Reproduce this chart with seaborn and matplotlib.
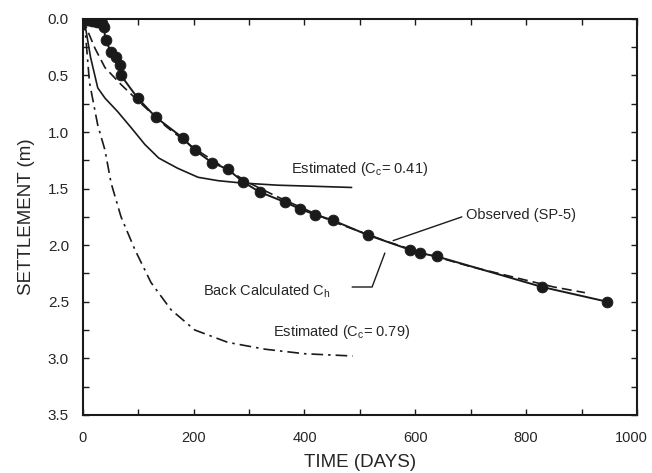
import matplotlib
matplotlib.use("Agg")
import matplotlib.pyplot as plt
import matplotlib.transforms as mtransforms
import seaborn as sns
import numpy as np

# Observed settlement (SP-5)
obs_t = [0, 4, 8, 12, 16, 20, 25, 30, 35, 38, 41, 51, 60, 67, 69, 99, 132, 180, 202, 233, 262, 289, 319, 365, 392, 419, 451, 514, 590, 608, 639, 829, 946]
obs_s = [0.0, 0.0, 0.01, 0.01, 0.02, 0.02, 0.03, 0.03, 0.04, 0.07, 0.19, 0.29, 0.34, 0.41, 0.50, 0.70, 0.87, 1.05, 1.16, 1.27, 1.33, 1.44, 1.53, 1.62, 1.68, 1.73, 1.78, 1.91, 2.04, 2.07, 2.10, 2.37, 2.50]

# Back calculated Ch
back_t = [0, 10, 22, 40, 69, 101, 150, 200, 250, 300, 350, 400, 450, 500, 550, 600, 650, 700, 750, 800, 850, 906]
back_s = [0.0, 0.12, 0.26, 0.43, 0.58, 0.73, 0.95, 1.14, 1.30, 1.45, 1.57, 1.68, 1.79, 1.88, 1.97, 2.05, 2.12, 2.19, 2.25, 2.31, 2.37, 2.42]

# Estimated (Cc = 0.41)
est41_t = [0, 4, 14, 27, 40, 63, 87, 112, 137, 171, 208, 244, 285, 352, 420, 485]
est41_s = [0.0, 0.05, 0.34, 0.61, 0.70, 0.82, 0.96, 1.11, 1.23, 1.32, 1.40, 1.43, 1.45, 1.47, 1.48, 1.49]

# Estimated (Cc = 0.79)
est79_t = [0, 5, 12, 27, 40, 51, 69, 94, 123, 159, 202, 262, 329, 400, 487]
est79_s = [0.0, 0.14, 0.56, 0.94, 1.16, 1.45, 1.75, 2.04, 2.33, 2.57, 2.75, 2.86, 2.92, 2.96, 2.98]

x_ticks = [0, 200, 400, 600, 800, 1000]
y_ticks = [0.0, 0.5, 1.0, 1.5, 2.0, 2.5, 3.0, 3.5]

sns.set_style("ticks")
plt.rcParams['font.family'] = ['Liberation Sans', 'DejaVu Sans']
plt.rcParams['mathtext.default'] = 'regular'

fig = plt.figure(figsize=(6.52, 4.73), dpi=100)
ax = fig.add_axes([0.127, 0.123, 0.850, 0.837])

ink = "#1a1a1a"
sns.lineplot(x=est41_t, y=est41_s, ax=ax, color=ink, lw=1.2, sort=False)
sns.lineplot(x=est79_t, y=est79_s, ax=ax, color=ink, lw=1.2, sort=False,
             linestyle=(0, (7, 3, 1.5, 3)))
sns.lineplot(x=back_t, y=back_s, ax=ax, color=ink, lw=1.2, sort=False, linestyle=(0, (6, 3)))
sns.lineplot(x=obs_t, y=obs_s, ax=ax, color=ink, lw=1.4, sort=False)
sns.scatterplot(x=obs_t, y=obs_s, ax=ax, color=ink, s=60, edgecolor=ink, zorder=5)

ax.set_xlim(0, 1000)
ax.set_ylim(3.5, 0.0)
ax.set_xticks(x_ticks)
ax.set_xticklabels([str(v) for v in x_ticks])
ax.set_yticks(y_ticks)
ax.set_yticklabels([f"{v:.1f}" for v in y_ticks])
ax.set_xticks(np.arange(100, 1000, 200), minor=True)
ax.set_yticks(np.arange(0.25, 3.5, 0.5), minor=True)
ax.tick_params(which='both', direction='in', top=True, right=True, labelsize=11, color=ink, width=1.0, length=4)
ax.tick_params(axis='x', pad=12, labelsize=10.5)
ax.tick_params(axis='y', pad=10)
for sp in ax.spines.values():
    sp.set_linewidth(1.5)
    sp.set_color(ink)

# nudge the last x tick label slightly left so it stays inside the figure
last = ax.get_xticklabels()[-1]
last.set_transform(last.get_transform() + mtransforms.ScaledTranslation(-4 / 72, 0, fig.dpi_scale_trans))

ax.set_xlabel("TIME (DAYS)", fontsize=13.5, labelpad=6)
ax.set_ylabel("SETTLEMENT (m)", fontsize=13.5, labelpad=9)

fs = 10.5
ax.text(375, 1.33, r"Estimated (C$_c$= 0.41)", fontsize=fs, va='center', ha='left')
ax.text(692, 1.73, "Observed (SP-5)", fontsize=fs, va='center', ha='left')
ax.plot([684, 560], [1.75, 1.96], color=ink, lw=1.0)
ax.text(217, 2.41, r"Back Calculated C$_h$", fontsize=fs, va='center', ha='left')
ax.plot([486, 522, 545], [2.37, 2.37, 2.07], color=ink, lw=1.0)
ax.text(343, 2.77, r"Estimated (C$_c$= 0.79)", fontsize=fs, va='center', ha='left')

fig.savefig("out.png", dpi=100)
